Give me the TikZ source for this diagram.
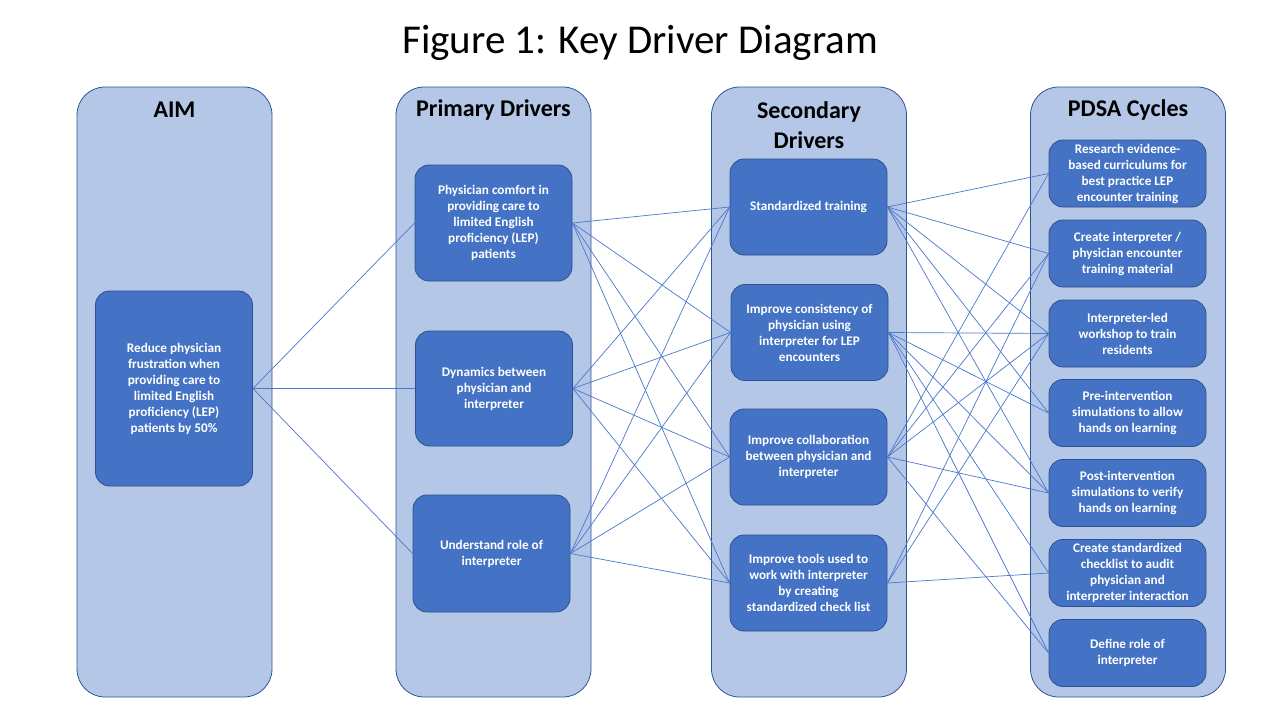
\documentclass[tikz,border=0pt]{standalone}
\usepackage{fontspec}
\setmainfont{Carlito}
\definecolor{colfill}{HTML}{B4C7E7}
\definecolor{colborder}{HTML}{2F5597}
\definecolor{boxfill}{HTML}{4472C4}
\definecolor{boxborder}{HTML}{2F528F}
\definecolor{linkc}{HTML}{4A78CC}
\begin{document}
\begin{tikzpicture}[x=1pt,y=-1pt,
  col/.style={draw=colborder, fill=colfill, rounded corners=28pt, line width=0.8pt, minimum width=195pt, minimum height=610pt, inner sep=0pt},
  head/.style={font=\fontsize{24}{30}\selectfont\bfseries, align=center, inner sep=0pt},
  box/.style={draw=boxborder, fill=boxfill, rounded corners=14pt, line width=0.8pt, text=white,
    font=\fontsize{13.2}{16}\selectfont\bfseries, align=center, inner sep=0pt, minimum width=157pt},
  link/.style={draw=linkc, line width=0.7pt}]
\useasboundingbox (0,0) rectangle (1280,720);
\fill[white] (0,0) rectangle (1280,720);
\node[inner sep=0pt] (title) at (640,43) {\fontsize{41}{46}\selectfont Figure 1: Key Driver Diagram};
% columns
\node[col] (caim) at (174.5,392) {};
\node[col] (cpri) at (493.5,392) {};
\node[col] (csec) at (809,392) {};
\node[col] (cpdsa) at (1128,392) {};
\node[head] (haim) at (174.5,110) {AIM};
\node[head] (hpri) at (493.5,110) {Primary Drivers};
\node[head] (hsec) at (809,125) {Secondary\\Drivers};
\node[head] (hpdsa) at (1128,110) {PDSA Cycles};
% aim
\node[box, minimum height=195pt] (aim) at (174,388.5) {Reduce physician\\frustration when\\providing care to\\limited English\\proficiency (LEP)\\patients by 50\%};
% primary
\node[box, minimum height=116pt] (p1) at (493.5,223) {Physician comfort in\\providing care to\\limited English\\proficiency (LEP)\\patients};
\node[box, minimum height=115pt] (p2) at (494,388.5) {Dynamics between\\physician and\\interpreter};
\node[box, minimum height=117pt] (p3) at (491.5,553.5) {Understand role of\\interpreter};
% secondary
\node[box, minimum height=96pt] (s1) at (808.5,207) {Standardized training};
\node[box, minimum height=96pt] (s2) at (809.5,332.5) {Improve consistency of\\physician using\\interpreter for LEP\\encounters};
\node[box, minimum height=96pt] (s3) at (808.5,457) {Improve collaboration\\between physician and\\interpreter};
\node[box, minimum height=96pt] (s4) at (808.5,583) {Improve tools used to\\work with interpreter\\by creating\\standardized check list};
% PDSA
\node[box, minimum height=67pt] (d1) at (1127.5,173.5) {Research evidence-\\based curriculums for\\best practice LEP\\encounter training};
\node[box, minimum height=67pt] (d2) at (1127.5,253.5) {Create interpreter /\\physician encounter\\training material};
\node[box, minimum height=67pt] (d3) at (1127.5,333.5) {Interpreter-led\\workshop to train\\residents};
\node[box, minimum height=67pt] (d4) at (1127.5,413) {Pre-intervention\\simulations to allow\\hands on learning};
\node[box, minimum height=67pt] (d5) at (1127.5,493) {Post-intervention\\simulations to verify\\hands on learning};
\node[box, minimum height=67pt] (d6) at (1127.5,573) {Create standardized\\checklist to audit\\physician and\\interpreter interaction};
\node[box, minimum height=67pt] (d7) at (1127.5,653) {Define role of\\interpreter};
% links aim -> primary
\foreach \p in {p1,p2,p3} \draw[link] (aim.east) -- (\p.west);
% primary -> secondary
\foreach \p in {p1,p2,p3} \foreach \s in {s1,s2,s3,s4} \draw[link] (\p.east) -- (\s.west);
% secondary -> PDSA
\foreach \d in {d1,d2,d3,d4,d5} \draw[link] (s1.east) -- (\d.west);
\foreach \d in {d3,d4,d5,d6,d7} \draw[link] (s2.east) -- (\d.west);
\foreach \d in {d1,d2,d3,d5,d7} \draw[link] (s3.east) -- (\d.west);
\foreach \d in {d2,d3,d6} \draw[link] (s4.east) -- (\d.west);
\end{tikzpicture}
\end{document}
